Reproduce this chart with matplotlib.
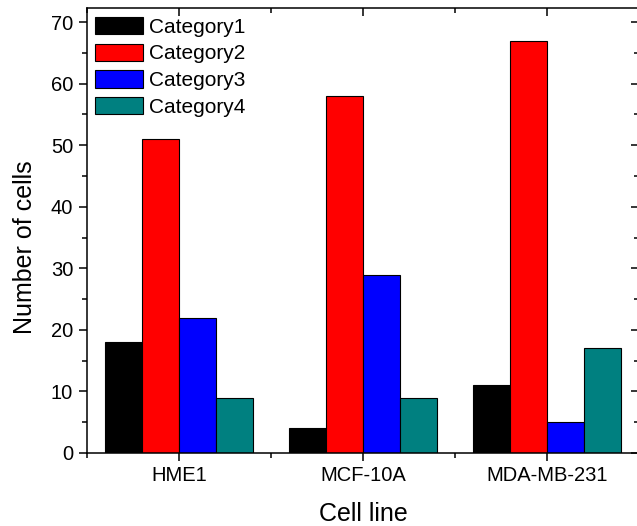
#!/usr/bin/env python3
"""Grouped bar chart: number of cells per category for three cell lines."""

import matplotlib

matplotlib.use("Agg")
import matplotlib.pyplot as plt
import numpy as np
from matplotlib.ticker import MultipleLocator

cell_lines = ["HME1", "MCF-10A", "MDA-MB-231"]
categories = ["Category1", "Category2", "Category3", "Category4"]
category1 = [18, 4, 11]
category2 = [51, 58, 67]
category3 = [22, 29, 5]
category4 = [9, 9, 17]
colors = ["#000000", "#ff0000", "#0000ff", "#008080"]

plt.rcParams["font.family"] = ["Liberation Sans", "DejaVu Sans"]

fig = plt.figure(figsize=(6.37, 5.26), dpi=100)
ax = fig.add_axes([87 / 637, 73 / 526, 552 / 637, 445 / 526])

x = np.arange(1, len(cell_lines) + 1)
width = 0.2
series = [category1, category2, category3, category4]
for i, (vals, name, col) in enumerate(zip(series, categories, colors)):
    ax.bar(x + (i - 1.5) * width, vals, width, color=col, edgecolor="black",
           linewidth=0.8, label=name)

ax.set_xlim(0.5, 3.5)
ax.set_ylim(0, 72.3)
ax.set_xticks(x)
ax.set_xticklabels(cell_lines)
ax.xaxis.set_minor_locator(MultipleLocator(1, offset=0.5))
ax.yaxis.set_major_locator(MultipleLocator(10))
ax.yaxis.set_minor_locator(MultipleLocator(5))

for s in ax.spines.values():
    s.set_linewidth(1.1)

ax.tick_params(axis="both", which="major", direction="out", length=6,
               width=1.1, labelsize=14.5)
ax.tick_params(axis="both", which="minor", direction="out", length=3.5,
               width=1.1)
ax.tick_params(axis="y", which="major", pad=4)
ax.tick_params(axis="x", which="both", top=True, labeltop=False)
ax.tick_params(axis="y", which="both", right=True, labelright=False)

# top and right ticks point inward
for t in ax.xaxis.get_major_ticks() + ax.xaxis.get_minor_ticks():
    t.tick2line.set_marker(3)
for t in ax.yaxis.get_major_ticks() + ax.yaxis.get_minor_ticks():
    t.tick2line.set_marker(0)

ax.set_xlabel("Cell line", fontsize=18, labelpad=12)
ax.set_ylabel("Number of cells", fontsize=18, labelpad=10)
ax.yaxis.label.set_y(0.462)

ax.legend(loc="upper left", bbox_to_anchor=(0.014, 0.98), frameon=False,
          fontsize=15, handlelength=2.3, handleheight=0.92,
          handletextpad=0.3, labelspacing=0.32, borderpad=0,
          borderaxespad=0)

fig.savefig("out.png", dpi=100)
